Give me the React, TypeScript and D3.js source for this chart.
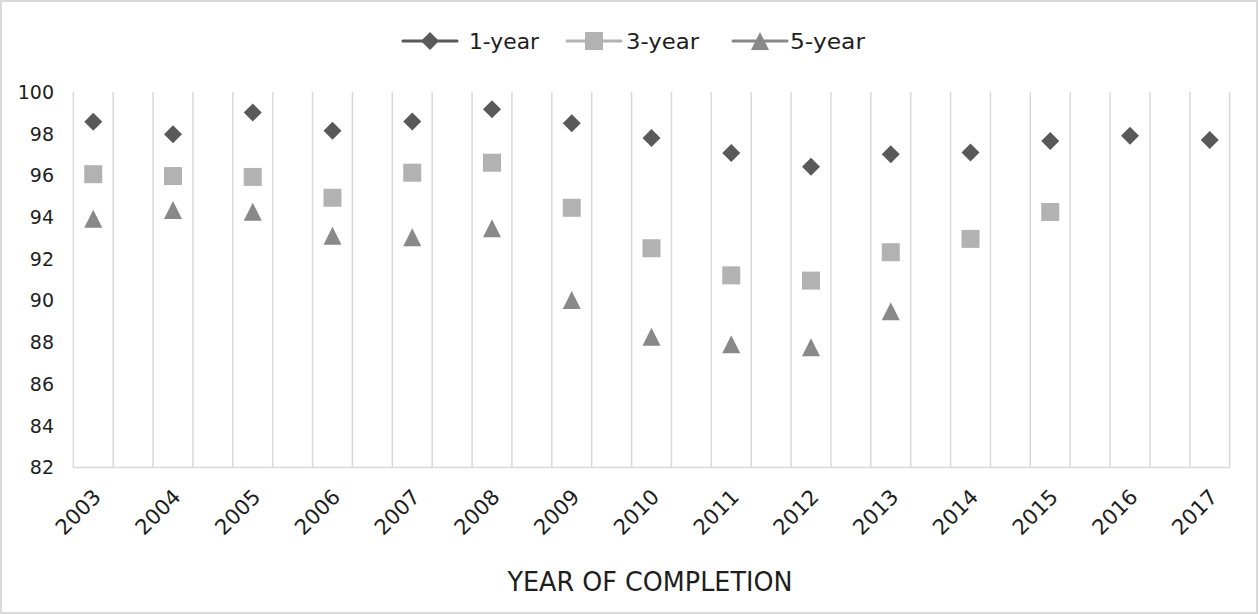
import React from "react";
import * as d3 from "d3";

const years = [2003, 2004, 2005, 2006, 2007, 2008, 2009, 2010, 2011, 2012, 2013, 2014, 2015, 2016, 2017];
const oneYear = [98.57, 97.97, 99.02, 98.14, 98.58, 99.17, 98.5, 97.8, 97.07, 96.42, 97.02, 97.1, 97.65, 97.9, 97.7];
const threeYear = [96.06, 95.97, 95.93, 94.93, 96.13, 96.61, 94.45, 92.51, 91.21, 90.96, 92.32, 92.96, 94.25, null, null];
const fiveYear = [93.92, 94.34, 94.26, 93.11, 93.04, 93.47, 90.03, 88.27, 87.91, 87.77, 89.49, null, null, null, null];
const yTicks = [82, 84, 86, 88, 90, 92, 94, 96, 98, 100];
const seriesNames = ["1-year", "3-year", "5-year"];

const W = 1259;
const H = 614;
const FONT = "'DejaVu Sans', sans-serif";
const TEXT = "#1e1e1e";
const GRID = "#d9d9d9";
const colors = ["#595959", "#b2b2b2", "#898989"];

function Marker({ kind, x, y, color }: { kind: number; x: number; y: number; color: string }) {
  if (kind === 0) {
    const r = 9;
    return <path d={`M${x},${y - r}L${x + r},${y}L${x},${y + r}L${x - r},${y}Z`} fill={color} />;
  }
  if (kind === 1) {
    const s = 18;
    return <rect x={x - s / 2} y={y - s / 2} width={s} height={s} fill={color} />;
  }
  const w = 18, h = 18;
  return <path d={`M${x},${y - h / 2}L${x + w / 2},${y + h / 2}L${x - w / 2},${y + h / 2}Z`} fill={color} />;
}

export default function App() {
  const left = 73.3, right = 1229.7, top = 92, bottom = 467.5;
  const x = d3.scaleLinear().domain([2002.75, 2017.25]).range([left, right]);
  const y = d3.scaleLinear().domain([82, 100]).range([bottom, top]);
  const gridVals = d3.range(2002.75, 2017.26, 0.5);
  const series = [oneYear, threeYear, fiveYear];

  const legendItems = [
    { lx: 403, tx: 469, tl: 70 },
    { lx: 567, tx: 626, tl: 73 },
    { lx: 733, tx: 790, tl: 75 },
  ];
  const legY = 41;

  return (
    <svg width={W} height={H} style={{ position: "absolute", left: 0, top: 0, background: "#fff" }}>
      <rect x={1} y={1} width={W - 3} height={H - 2} fill="#fff" stroke={GRID} strokeWidth={2} />
      {gridVals.map((g, i) => (
        <line key={i} x1={x(g)} x2={x(g)} y1={top} y2={bottom} stroke={GRID} strokeWidth={1.5} />
      ))}
      <line x1={left} x2={right} y1={bottom} y2={bottom} stroke={GRID} strokeWidth={1.5} />
      {yTicks.map((t) => (
        <text key={t} x={54} y={y(t)} dy="0.36em" textAnchor="end" fontFamily={FONT} fontSize={19} fill={TEXT}>
          {t}
        </text>
      ))}
      {years.map((yr) => (
        <text
          key={yr}
          transform={`translate(${x(yr) - 2},${487}) rotate(-45)`}
          textAnchor="end"
          dy="0.75em"
          fontFamily={FONT}
          fontSize={21}
          fill={TEXT}
          textLength={54}
          lengthAdjust="spacingAndGlyphs"
        >
          {yr}
        </text>
      ))}
      {series.map((s, si) =>
        s.map((v, i) =>
          v == null ? null : <Marker key={`${si}-${i}`} kind={si} x={x(years[i])} y={y(v)} color={colors[si]} />
        )
      )}
      {seriesNames.map((n, i) => (
        <g key={n}>
          <line x1={legendItems[i].lx} x2={legendItems[i].lx + 54} y1={legY} y2={legY} stroke={colors[i]} strokeWidth={3} strokeLinecap="round" />
          <Marker kind={i} x={legendItems[i].lx + 27} y={legY} color={colors[i]} />
          <text
            x={legendItems[i].tx}
            y={legY}
            dy="0.36em"
            fontFamily={FONT}
            fontSize={21}
            fill={TEXT}
            textLength={legendItems[i].tl}
            lengthAdjust="spacingAndGlyphs"
          >
            {n}
          </text>
        </g>
      ))}
      <text
        x={650}
        y={582}
        textAnchor="middle"
        dy="0.36em"
        fontFamily={FONT}
        fontSize={26}
        fill={TEXT}
        textLength={285}
        lengthAdjust="spacingAndGlyphs"
      >
        YEAR OF COMPLETION
      </text>
    </svg>
  );
}
